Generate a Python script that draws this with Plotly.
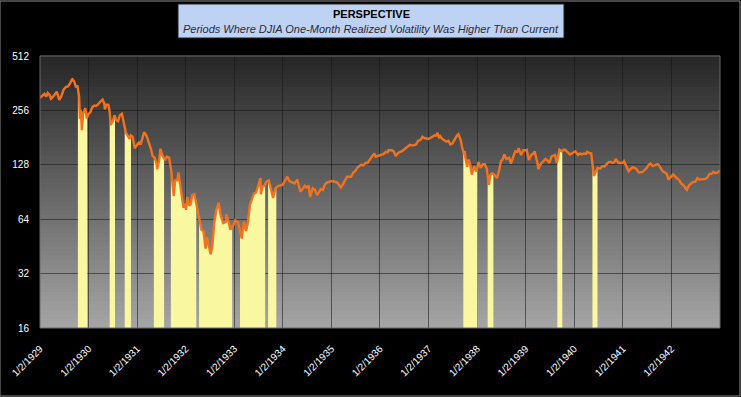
import numpy as np
import pandas as pd
import plotly.graph_objects as go

# ---------------- data ----------------
dow_dates = [
    "1929-01-02","1929-01-20","1929-02-05","1929-02-18","1929-03-01","1929-03-15","1929-03-26","1929-04-10",
    "1929-04-25","1929-05-08","1929-05-27","1929-06-10","1929-06-28","1929-07-15","1929-07-31","1929-08-15",
    "1929-08-30","1929-09-03","1929-09-16","1929-09-30","1929-10-10","1929-10-23","1929-10-29","1929-11-05",
    "1929-11-13","1929-11-22","1929-12-09","1929-12-20",
    "1930-01-02","1930-01-15","1930-01-31","1930-02-14","1930-02-28","1930-03-14","1930-03-31","1930-04-17",
    "1930-04-30","1930-05-05","1930-05-15","1930-05-31","1930-06-10","1930-06-18","1930-06-24","1930-07-03",
    "1930-07-17","1930-07-28","1930-08-12","1930-08-25","1930-09-10","1930-09-30","1930-10-10","1930-10-22",
    "1930-11-07","1930-11-15","1930-11-29","1930-12-16","1930-12-31",
    "1931-01-15","1931-01-31","1931-02-14","1931-02-24","1931-03-14","1931-03-31","1931-04-15","1931-04-29",
    "1931-05-15","1931-05-30","1931-06-02","1931-06-15","1931-06-27","1931-07-10","1931-07-31","1931-08-15",
    "1931-08-31","1931-09-15","1931-09-30","1931-10-05","1931-10-15","1931-10-31","1931-11-09","1931-11-25",
    "1931-12-17","1931-12-31",
    "1932-01-05","1932-01-14","1932-01-30","1932-02-10","1932-02-20","1932-03-08","1932-03-30","1932-04-15",
    "1932-04-30","1932-05-15","1932-05-31","1932-06-10","1932-06-30","1932-07-08","1932-07-20","1932-08-05",
    "1932-08-20","1932-09-07","1932-09-20","1932-10-10","1932-10-31","1932-11-03","1932-11-20","1932-12-03",
    "1932-12-30",
    "1933-01-10","1933-01-31","1933-02-14","1933-02-27","1933-03-15","1933-03-31","1933-04-15","1933-04-30",
    "1933-05-15","1933-05-31","1933-06-15","1933-06-30","1933-07-18","1933-07-21","1933-07-31","1933-08-15",
    "1933-08-31","1933-09-18","1933-10-03","1933-10-21","1933-11-07","1933-11-30","1933-12-31",
    "1934-01-15","1934-02-05","1934-02-20","1934-03-15","1934-03-31","1934-04-20","1934-05-14","1934-05-31",
    "1934-06-15","1934-06-30","1934-07-15","1934-07-26","1934-08-15","1934-08-31","1934-09-17","1934-10-15",
    "1934-10-31","1934-11-15","1934-11-30","1934-12-31",
    "1935-01-15","1935-02-15","1935-03-14","1935-03-31","1935-04-15","1935-04-30","1935-05-31","1935-06-15",
    "1935-06-30","1935-07-15","1935-07-31","1935-08-15","1935-08-31","1935-09-15","1935-09-30","1935-10-15",
    "1935-10-31","1935-11-20","1935-11-30","1935-12-31",
    "1936-01-15","1936-01-31","1936-02-15","1936-02-29","1936-03-06","1936-03-31","1936-04-15","1936-04-30",
    "1936-05-15","1936-05-31","1936-06-15","1936-06-30","1936-07-15","1936-07-31","1936-08-15","1936-08-31",
    "1936-09-15","1936-09-30","1936-10-15","1936-10-31","1936-11-17","1936-11-30","1936-12-31",
    "1937-01-15","1937-01-31","1937-02-15","1937-02-27","1937-03-10","1937-03-22","1937-03-31","1937-04-15",
    "1937-04-30","1937-05-15","1937-05-31","1937-06-14","1937-06-30","1937-07-15","1937-07-31","1937-08-14",
    "1937-08-31","1937-09-10","1937-09-24","1937-09-30","1937-10-05","1937-10-19","1937-10-29","1937-11-10",
    "1937-11-23","1937-12-10","1937-12-28",
    "1938-01-12","1938-01-28","1938-02-15","1938-02-28","1938-03-15","1938-03-24","1938-03-31","1938-04-10",
    "1938-04-25","1938-05-10","1938-05-31","1938-06-15","1938-06-30","1938-07-15","1938-07-25","1938-08-10",
    "1938-08-31","1938-09-13","1938-09-28","1938-10-15","1938-10-31","1938-11-10","1938-11-28","1938-12-15",
    "1938-12-31",
    "1939-01-10","1939-01-26","1939-02-15","1939-02-28","1939-03-10","1939-03-31","1939-04-08","1939-04-20",
    "1939-05-15","1939-05-31","1939-06-15","1939-06-29","1939-07-15","1939-07-31","1939-08-10","1939-08-24",
    "1939-09-05","1939-09-13","1939-09-30","1939-10-15","1939-10-25","1939-11-15","1939-11-30","1939-12-15",
    "1939-12-30",
    "1940-01-10","1940-01-31","1940-02-15","1940-02-29","1940-03-15","1940-03-31","1940-04-08","1940-04-30",
    "1940-05-09","1940-05-14","1940-05-21","1940-05-28","1940-06-10","1940-06-25","1940-07-15","1940-07-31",
    "1940-08-15","1940-08-31","1940-09-15","1940-09-30","1940-10-15","1940-10-31","1940-11-09","1940-11-30",
    "1940-12-15","1940-12-31",
    "1941-01-10","1941-01-31","1941-02-14","1941-02-28","1941-03-15","1941-03-31","1941-04-15","1941-04-30",
    "1941-05-15","1941-05-31","1941-06-15","1941-06-30","1941-07-15","1941-07-28","1941-08-15","1941-08-31",
    "1941-09-18","1941-09-30","1941-10-15","1941-10-31","1941-11-15","1941-11-29","1941-12-10","1941-12-31",
    "1942-01-15","1942-01-31","1942-02-15","1942-02-28","1942-03-15","1942-03-31","1942-04-15","1942-04-28",
    "1942-05-15","1942-05-29","1942-06-15","1942-06-30","1942-07-15","1942-07-31","1942-08-15","1942-08-31",
    "1942-09-15","1942-09-30","1942-10-15","1942-10-31","1942-11-15","1942-11-30","1942-12-15","1942-12-31",
]
dow_values = [
    300,310,316,305,320,312,297,305,318,325,293,305,333,345,347,360,380,381,370,343,352,305,230,258,199,245,263,231,
    245,250,267,272,271,276,286,294,279,259,276,275,250,212,218,223,240,227,223,240,245,204,193,186,178,186,183,158,165,
    170,168,180,194,185,172,158,143,140,128,121,133,157,145,136,142,140,120,97,86,105,105,116,93,74,78,
    72,85,76,78,87,88,73,62,56,55,44,51,43,41,45,62,72,79,68,61,62,68,62,56,60,
    63,61,54,50,62,55,62,77,83,89,90,98,108,88,97,98,103,105,94,84,95,98,99,
    103,110,104,102,101,106,91,94,98,96,98,85,95,93,87,94,93,100,102,104,
    104,102,96,100,106,110,110,116,118,123,126,128,127,131,131,136,140,148,142,144,
    145,147,151,150,154,154,152,143,148,151,152,155,158,162,165,164,164,166,174,175,183,180,178,
    180,183,186,186,192,180,184,178,174,172,174,166,168,177,184,189,176,161,147,153,141,125,137,129,113,126,117,
    133,123,129,129,122,108,99,112,115,113,108,118,134,138,146,138,140,130,141,152,151,158,145,154,154,
    155,136,146,147,152,131,121,128,134,138,135,131,142,143,145,131,148,155,152,155,155,149,146,148,150,
    152,145,148,146,148,147,151,148,148,137,115,111,116,123,122,126,125,129,132,133,131,133,138,131,131,131,
    134,124,118,121,124,123,121,116,117,117,120,123,128,130,126,127,129,127,122,117,116,114,106,111,
    113,110,107,106,101,99,96,93,99,101,103,103,108,106,106,107,107,109,114,114,117,115,116,119,
]
# periods where one-month realized volatility was higher than current (yellow)
high_vol_start = ["1929-10-14","1930-06-10","1930-10-01","1931-05-08","1931-09-13","1932-04-12",
                  "1933-02-14","1933-09-13","1937-09-20","1938-03-22","1939-08-28","1940-05-18"]
high_vol_end = ["1929-12-24","1930-07-20","1930-11-17","1931-07-24","1932-03-22","1932-12-17",
                "1933-08-22","1933-11-14","1938-01-04","1938-05-04","1939-10-04","1940-06-25"]
y_ticks = [16, 32, 64, 128, 256, 512]
x_tick_dates = ["%d-01-02" % y for y in range(1929, 1943)]
x_tick_labels = ["1/2/%d" % y for y in range(1929, 1943)]
title_text = "PERSPECTIVE"
subtitle_text = "Periods Where DJIA One-Month Realized Volatility Was Higher Than Current"

# ---------------- build figure ----------------
d = pd.to_datetime(dow_dates)
v = np.array(dow_values, dtype=float)
t = d.astype("int64").to_numpy().astype(float)
logv = np.log(v)

poly_x, poly_y = [], []
for s, e in zip(high_vol_start, high_vol_end):
    ts, te = pd.Timestamp(s), pd.Timestamp(e)
    vs = float(np.exp(np.interp(ts.value, t, logv)))
    ve = float(np.exp(np.interp(te.value, t, logv)))
    mask = (d > ts) & (d < te)
    xs = [ts] + list(d[mask]) + [te, te, ts, ts]
    ys = [vs] + list(v[mask]) + [ve, 16, 16, vs]
    poly_x += xs + [None]
    poly_y += ys + [None]

fig = go.Figure()
fig.add_trace(go.Scatter(x=poly_x, y=poly_y, mode="lines", fill="toself",
                         fillcolor="#f9f7a0", line=dict(width=0), hoverinfo="skip",
                         showlegend=False))
fig.add_trace(go.Scatter(x=d, y=v, mode="lines", line=dict(color="#f2721e", width=2.4),
                         showlegend=False))

PW, PH = 680, 272  # plot area size in px

# gradient background of plot area
shapes = []
n = 60
top = np.array([38, 38, 38])
bot = np.array([166, 166, 166])
for i in range(n):
    f = (i + 0.5) / n  # 0 bottom -> 1 top
    c = bot + (top - bot) * f
    shapes.append(dict(type="rect", xref="x domain", yref="y domain",
                       x0=0, x1=1, y0=i / n, y1=(i + 1) / n + 0.002,
                       fillcolor="rgb(%d,%d,%d)" % tuple(c.astype(int)),
                       line=dict(width=0), layer="below"))
# plot-area rim
shapes.append(dict(type="rect", xref="x domain", yref="y domain", x0=0, x1=1, y0=0, y1=1,
                   fillcolor="rgba(0,0,0,0)", line=dict(color="#6a6a6a", width=1), layer="above"))
# title box
shapes.append(dict(type="rect", xref="paper", yref="paper",
                   x0=(178 - 40) / PW, x1=(564 - 40) / PW,
                   y0=1 + (56 - 38) / PH, y1=1 + (56 - 4) / PH,
                   fillcolor="#bed3f3", line=dict(color="#202020", width=1), layer="above"))
# outer frame
shapes.append(dict(type="rect", xref="paper", yref="paper",
                   x0=-40 / PW, x1=1 + 20 / PW, y0=-68 / PH, y1=1 + 55 / PH,
                   fillcolor="rgba(0,0,0,0)", line=dict(color="#8a8a8a", width=1), layer="above"))

fig.update_layout(
    width=741, height=397,
    margin=dict(l=40, r=21, t=56, b=69, autoexpand=False),
    paper_bgcolor="black", plot_bgcolor="#777777",
    shapes=shapes,
    annotations=[
        dict(text="<b>%s</b>" % title_text, xref="paper", yref="paper",
             x=(371 - 40) / PW, y=1 + (56 - 14) / PH, showarrow=False,
             xanchor="center", yanchor="middle",
             font=dict(family="Liberation Sans, Arial", size=11, color="black")),
        dict(text="<i>%s</i>" % subtitle_text, xref="paper", yref="paper",
             x=(371 - 40) / PW, y=1 + (56 - 29) / PH, showarrow=False,
             xanchor="center", yanchor="middle",
             font=dict(family="Liberation Sans, Arial", size=11, color="#2a2a3a")),
    ],
    xaxis=dict(type="date", range=["1929-01-02", "1943-01-02"], automargin=False,
               tickvals=x_tick_dates, ticktext=x_tick_labels, tickangle=-45,
               ticks="outside", ticklen=10, tickcolor="black",
               showgrid=True, gridcolor="rgba(20,20,20,0.55)", gridwidth=1,
               zeroline=False, showline=False,
               tickfont=dict(family="Liberation Sans, Arial", size=10, color="white")),
    yaxis=dict(type="log", range=[np.log10(16), np.log10(512)], automargin=False,
               tickvals=y_ticks, ticktext=[str(y) for y in y_ticks],
               ticks="outside", ticklen=8, tickcolor="black",
               showgrid=True, gridcolor="rgba(20,20,20,0.55)", gridwidth=1,
               zeroline=False, showline=False,
               tickfont=dict(family="Liberation Sans, Arial", size=10, color="white")),
)

fig.write_html("out.html")
